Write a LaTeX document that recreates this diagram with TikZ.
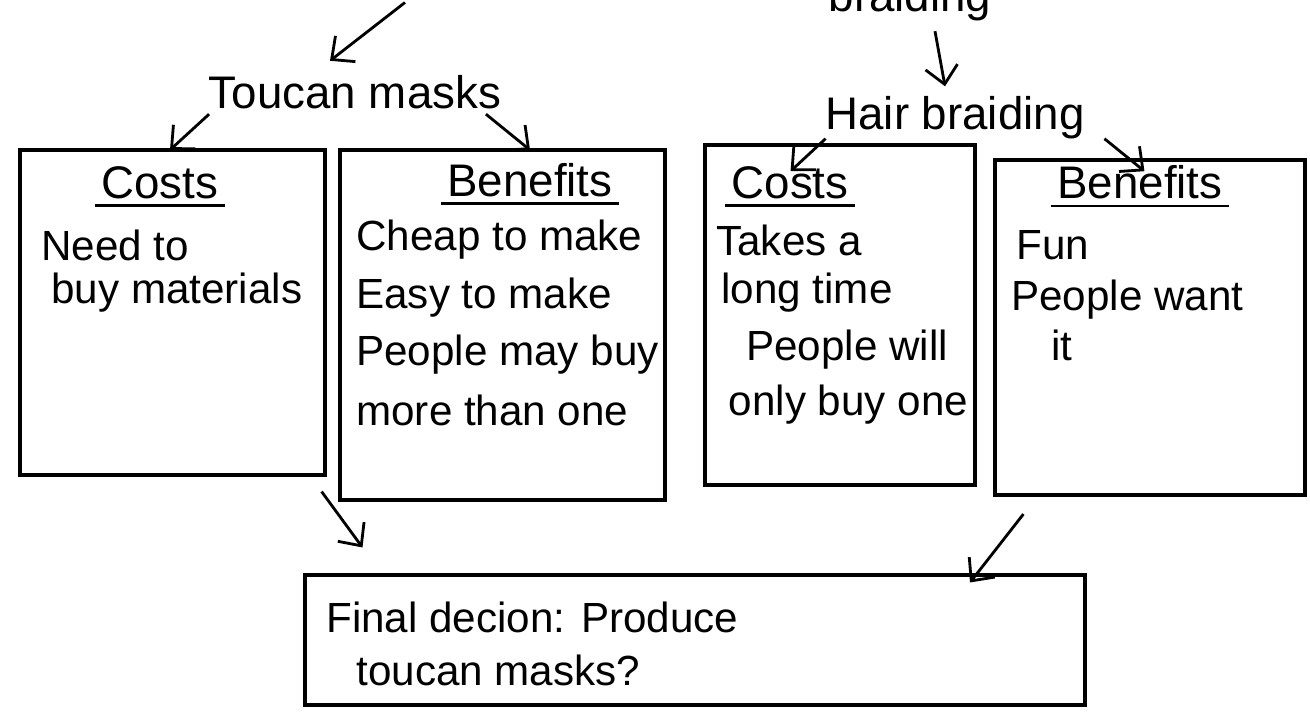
\documentclass[tikz,border=0pt]{standalone}
\usepackage{fontspec}
\setmainfont{Liberation Sans}
\usetikzlibrary{arrows.meta,positioning}

\begin{document}
\begin{tikzpicture}[
    thick,
    line width=1.6pt,
    >={Straight Barb[length=3.5mm,width=6.5mm]},
    box node/.style={rectangle,draw,line width=1.8pt,inner sep=0pt},
    head node/.style={font=\fontsize{26}{30}\selectfont,inner sep=2pt},
    title node/.style={font=\fontsize{26}{30}\selectfont,inner sep=3pt},
    item node/.style={anchor=west,font=\fontsize{24}{28}\selectfont,inner sep=0pt}
]
\useasboundingbox (0,0) rectangle (26.2,14.3);
\clip (0,0) rectangle (26.2,14.3);

% Top (cut off)
\coordinate (topleft) at (8.1,14.25);
\node[head node] (braidtop) at (18.2,14.3) {braiding};

% Options
\node[head node] (toucan) at (7.1,12.45) {Toucan masks};
\node[head node] (hair) at (19.1,11.95) {Hair braiding};

% Toucan masks: costs
\node[box node, minimum width=6.1cm, minimum height=6.5cm] (costA) at (3.45,8.05) {};
\node[title node] (costAt) at (3.2,10.65) {Costs};
\node[item node] (costA1) at (0.8,9.4) {Need to};
\node[item node] (costA2) at (1.0,8.45) {buy materials};

% Toucan masks: benefits
\node[box node, minimum width=6.5cm, minimum height=7.0cm] (benA) at (10.05,7.8) {};
\node[title node] (benAt) at (10.6,10.7) {Benefits};
\node[item node] (benA1) at (7.1,9.5) {Cheap to make};
\node[item node] (benA2) at (7.1,8.35) {Easy to make};
\node[item node] (benA3) at (7.1,7.2) {People may buy};
\node[item node] (benA4) at (7.1,6.1) {more than one};

% Hair braiding: costs
\node[box node, minimum width=5.4cm, minimum height=6.8cm] (costB) at (16.8,8.0) {};
\node[title node] (costBt) at (15.8,10.65) {Costs};
\node[item node] (costB1) at (14.3,9.5) {Takes a};
\node[item node] (costB2) at (14.4,8.45) {long time};
\node[item node] (costB3) at (14.9,7.3) {People will};
\node[item node] (costB4) at (14.55,6.2) {only buy one};

% Hair braiding: benefits
\node[box node, minimum width=6.2cm, minimum height=6.7cm] (benB) at (23.0,7.75) {};
\node[title node] (benBt) at (22.8,10.65) {Benefits};
\node[item node] (benB1) at (20.3,9.4) {Fun};
\node[item node] (benB2) at (20.2,8.3) {People want};
\node[item node] (benB3) at (21.0,7.4) {it};

% Decision
\node[box node, minimum width=15.6cm, minimum height=2.6cm] (final) at (13.9,1.5) {};
\node[item node] (final1) at (6.5,1.95) {Final decion: Produce};
\node[item node] (final2) at (7.1,0.9) {toucan masks?};

% Underlines
\draw (costAt.south west) -- (costAt.south east);
\draw (benAt.south west) -- (benAt.south east);
\draw (costBt.south west) -- (costBt.south east);
\draw (benBt.south west) -- (benBt.south east);

% Arrows
\draw[->] (topleft) -- ([xshift=-0.5cm,yshift=0.2cm]toucan.north);
\draw[->] ([xshift=0.5cm,yshift=-0.1cm]braidtop.south) -- ([xshift=-0.2cm,yshift=0.1cm]hair.north);
\draw[->] ([xshift=0.1cm]toucan.south west) -- (3.4,11.3);
\draw[->] ([xshift=-0.4cm]toucan.south east) -- (10.6,11.3);
\draw[->] ([xshift=0.1cm,yshift=0.1cm]hair.south west) -- ([xshift=-0.6cm,yshift=-0.55cm]hair.south west);
\draw[->] ([xshift=0.3cm,yshift=0.1cm]hair.south east) -- ([xshift=1.1cm,yshift=-0.55cm]hair.south east);
\draw[->] ([xshift=-0.1cm,yshift=-0.3cm]costA.south east) -- (7.25,3.35);
\draw[->] ([xshift=0.6cm,yshift=-0.35cm]benB.south west) -- (19.4,2.65);

\end{tikzpicture}
\end{document}
